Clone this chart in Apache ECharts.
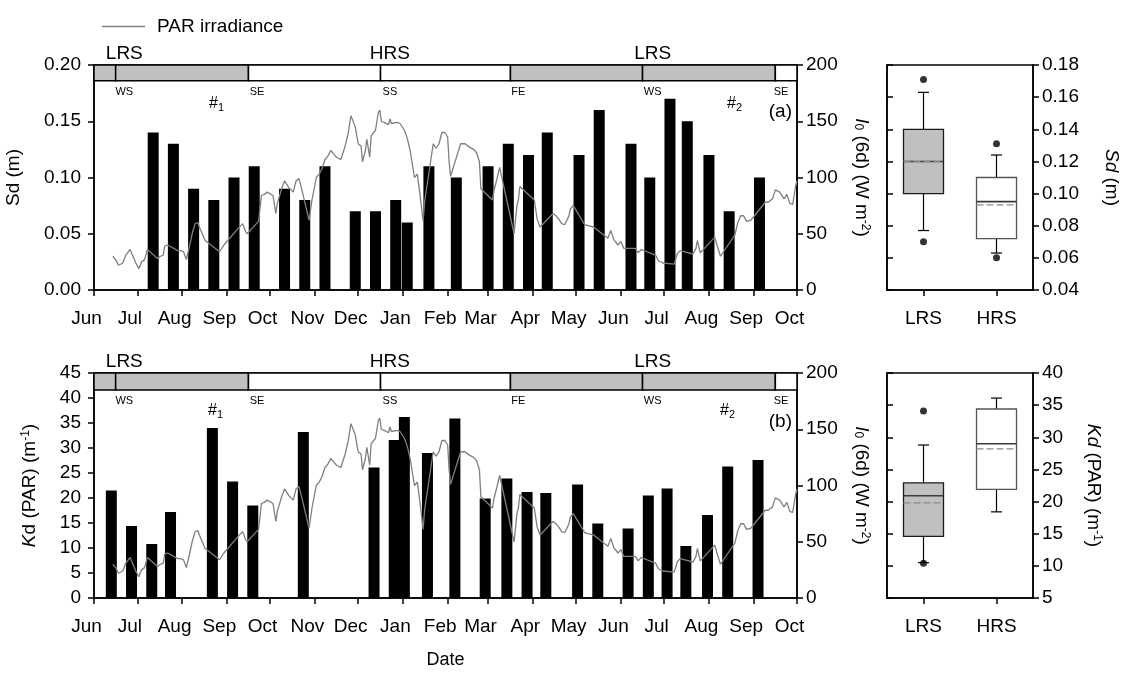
<!DOCTYPE html>
<html>
<head>
<meta charset="utf-8">
<script src="https://cdn.jsdelivr.net/npm/echarts@6/dist/echarts.min.js"></script>
<style>
  html, body { margin: 0; padding: 0; background: #fff; }
  #chart { width: 1126px; height: 675px; }
</style>
</head>
<body>
<div id="chart"></div>
<script>
// ---- time frame (one category per day) ----
const START = '2010-06-01';
const END = '2011-10-01';
const MONTHS = ['Jan','Feb','Mar','Apr','May','Jun','Jul','Aug','Sep','Oct','Nov','Dec'];

// ---- seasons and astronomical events ----
const seasonEvents = ['WS', 'SE', 'SS', 'FE', 'WS', 'SE'];
const seasonEventDates = ['2010-06-22', '2010-09-22', '2010-12-23', '2011-03-22', '2011-06-23', '2011-09-20'];
const bandSegmentSeason = ['LRS', 'LRS', 'HRS', 'HRS', 'LRS', 'LRS', 'HRS'];
const seasonNames = ['LRS', 'HRS', 'LRS'];
const seasonNameDates = ['2010-06-22', '2010-12-23', '2011-06-23'];

// ---- Secchi depth, Sd (m) ----
const sdDates = ['2010-07-12','2010-07-26','2010-08-09','2010-08-23','2010-09-06','2010-09-20',
  '2010-10-11','2010-10-25','2010-11-08','2010-11-29','2010-12-13','2010-12-27','2011-01-04',
  '2011-01-19','2011-02-07','2011-03-01','2011-03-15','2011-03-29','2011-04-11','2011-05-03',
  '2011-05-17','2011-06-08','2011-06-21','2011-07-05','2011-07-17','2011-08-01','2011-08-15','2011-09-05'];
const sdValues = [0.14,0.13,0.09,0.08,0.10,0.11,0.09,0.08,0.11,0.07,0.07,0.08,0.06,
  0.11,0.10,0.11,0.13,0.12,0.14,0.12,0.16,0.13,0.10,0.17,0.15,0.12,0.07,0.10];

// ---- diffuse attenuation, Kd (PAR) (m-1) ----
const kdDates = ['2010-06-13','2010-06-27','2010-07-11','2010-07-24','2010-08-22','2010-09-05',
  '2010-09-19','2010-10-24','2010-12-12','2010-12-26','2011-01-02','2011-01-18','2011-02-06',
  '2011-02-27','2011-03-14','2011-03-28','2011-04-10','2011-05-02','2011-05-16','2011-06-06',
  '2011-06-20','2011-07-03','2011-07-16','2011-07-31','2011-08-14','2011-09-04'];
const kdValues = [21.5,14.4,10.8,17.2,34.0,23.3,18.5,33.2,26.1,31.6,36.2,29.0,35.9,
  19.9,23.9,21.2,21.0,22.7,14.9,13.9,20.5,21.9,10.4,16.6,26.3,27.6];

// ---- 6-day PAR irradiance, I0 (W m-2); days counted from 1 June ----
const parDays = [13,15,17,18,20,22,25,27,29,31,33,35,37,44,46,48,49,51,58,60,62,64,66,68,70,72,73,75,77,
  87,88,90,91,100,103,105,106,114,116,118,120,121,124,126,127,130,132,135,138,140,142,144,149,151,154,
  156,158,160,162,164,166,168,171,174,176,178,179,181,183,185,186,188,189,191,192,195,197,198,199,201,
  204,205,206,210,212,215,217,219,221,222,224,226,228,229,235,237,239,241,243,245,246,247,254,257,260,
  263,265,267,268,276,277,279,281,291,293,294,295,296,305,307,309,318,320,322,324,326,328,329,330,332,
  340,343,346,354,356,358,360,363,365,367,375,377,379,389,391,394,402,404,406,415,417,418,420,430,432,
  434,444,446,448,450,452,455,465,467,470,472,475,478,480,482,484,486,487];
const parValues = [30,27,22,21,24,31,36,30,24,19,25,27,36,28,30,31,39,40,35,35,34,27,38,50,59,60,56,50,44,
  34,34,40,41,55,59,52,50,61,84,85,87,86,84,68,77,90,97,91,87,97,99,89,62,80,100,
  103,108,116,119,124,121,118,116,128,139,155,155,145,130,128,114,124,134,118,137,142,158,160,150,149,
  147,152,148,149,148,142,135,124,108,100,103,83,61,78,130,126,130,140,140,136,114,101,130,130,127,
  125,122,114,90,80,88,98,109,50,75,80,92,92,80,63,56,68,66,63,59,58,63,66,72,75,
  58,57,56,48,46,53,45,40,43,37,37,33,36,31,26,24,23,32,35,32,37,44,33,47,38,
  30,49,60,66,66,61,62,78,78,81,89,87,81,85,77,76,92,97];

// ---- box plots: [lower whisker, Q1, median, Q3, upper whisker] ----
const boxCategories = ['LRS', 'HRS'];
const sdBoxStats = [[0.077, 0.100, 0.120, 0.140, 0.163], [0.063, 0.072, 0.095, 0.110, 0.124]];
const sdBoxMeans = [0.120, 0.093];
const sdOutliers = [['LRS', 0.171], ['LRS', 0.070], ['HRS', 0.131], ['HRS', 0.060]];
const kdBoxStats = [[10.5, 14.6, 20.9, 22.9, 28.8], [18.4, 21.9, 29.0, 34.4, 36.1]];
const kdBoxMeans = [19.8, 28.2];
const kdOutliers = [['LRS', 34.1], ['LRS', 10.4]];

// ---------------------------------------------------------------
const FONT = '"Liberation Sans", Arial, Helvetica, sans-serif';
const FS = 19;           // tick label size
const NAME_FS = 19;      // axis title size
const GRAY = '#c0c0c0';
const BOX_FILLS = [GRAY, '#ffffff'];
const BOX_EDGES = ['#1a1a1a', '#555555'];

// one category per calendar day
const dayCats = [];
for (let t = Date.parse(START + 'T00:00:00Z'); t <= Date.parse(END + 'T00:00:00Z'); t += 86400000) {
  dayCats.push(new Date(t).toISOString().slice(0, 10));
}
const isMonthStart = (i, v) => v.slice(8) === '01';
const parSeries = parDays.map((d, k) => [dayCats[d], parValues[k]]);

const RICH = {
  i: { fontStyle: 'italic', fontSize: NAME_FS, fontFamily: FONT, color: '#000' },
  sup: { fontSize: 12, verticalAlign: 'top', fontFamily: FONT, color: '#000' },
  sub: { fontSize: 12, verticalAlign: 'bottom', fontFamily: FONT, color: '#000' }
};
const nameStyle = { fontSize: NAME_FS, fontFamily: FONT, color: '#000', rich: RICH };
const AXIS_LINE = { show: true, lineStyle: { color: '#000', width: 1.5 } };
const tickLabel = extra => Object.assign({ fontSize: FS, fontFamily: FONT, color: '#000', margin: 9 }, extra || {});

function timeAxis(gridIndex, extra) {
  return Object.assign({
    type: 'category', gridIndex, data: dayCats, boundaryGap: false,
    axisLine: AXIS_LINE,
    axisTick: { show: true, interval: isMonthStart, length: 6, lineStyle: { color: '#000', width: 1.5 } },
    // month names sit a little left of their month-start ticks
    axisLabel: tickLabel({ interval: isMonthStart, formatter: v => MONTHS[+v.slice(5, 7) - 1],
      margin: 19, padding: [0, 15, 0, 0] }),
    splitLine: { show: false }
  }, extra || {});
}

function valueAxis(gridIndex, position, min, max, interval, extra) {
  return Object.assign({
    type: 'value', gridIndex, position, min, max, interval,
    axisLine: AXIS_LINE,
    axisTick: { show: true, length: 6, lineStyle: { color: '#000', width: 1.5 } },
    axisLabel: tickLabel(),
    splitLine: { show: false },
    nameLocation: 'middle', nameTextStyle: nameStyle
  }, extra || {});
}

function boxAxisX(gridIndex) {
  return {
    type: 'category', gridIndex, data: boxCategories,
    axisLine: AXIS_LINE,
    axisTick: { show: true, alignWithLabel: true, length: 6, lineStyle: { color: '#000', width: 1.5 } },
    axisLabel: tickLabel({ margin: 19 }),
    splitLine: { show: false }
  };
}

function bandAreas(lo, hi) {
  const edges = [dayCats[0]].concat(seasonEventDates, [dayCats[dayCats.length - 1]]);
  return bandSegmentSeason.map((s, k) => [
    { xAxis: edges[k], yAxis: lo,
      itemStyle: { color: s === 'LRS' ? GRAY : '#ffffff', borderColor: '#000', borderWidth: 1.5 } },
    { xAxis: edges[k + 1], yAxis: hi }
  ]);
}

function bandLabels(lo, hi) {
  const ev = seasonEvents.map((name, k) => ({
    name, coord: [seasonEventDates[k], lo],
    label: { position: 'bottom', distance: 5, fontSize: 11 }
  }));
  const ss = seasonNames.map((name, k) => ({
    name, coord: [seasonNameDates[k], hi],
    label: { position: 'top', distance: 1, fontSize: 19 }
  }));
  return ev.concat(ss);
}

function barSeries(name, xi, yi, dates, values, lo, hi) {
  return {
    name, type: 'bar', xAxisIndex: xi, yAxisIndex: yi, barWidth: 11,
    itemStyle: { color: '#000' },
    data: dates.map((d, k) => [d, values[k]]),
    markArea: { silent: true, data: bandAreas(lo, hi) },
    markPoint: {
      silent: true, symbol: 'circle', symbolSize: 1,
      itemStyle: { color: 'rgba(0,0,0,0)' },
      label: { show: true, formatter: '{b}', color: '#000', fontFamily: FONT },
      data: bandLabels(lo, hi)
    }
  };
}

function lineSeries(xi, yi) {
  return {
    name: 'PAR irradiance', type: 'line', xAxisIndex: xi, yAxisIndex: yi,
    symbol: 'none', lineStyle: { color: '#7f7f7f', width: 1.3 }, itemStyle: { color: '#7f7f7f' },
    data: parSeries
  };
}

function renderBox(params, api) {
  const cat = api.value(0);
  const low = api.value(1), q1 = api.value(2), med = api.value(3), q3 = api.value(4), high = api.value(5), mean = api.value(6);
  const cx = api.coord([cat, med])[0];
  const y = v => api.coord([cat, v])[1];
  const hw = 20, cw = 5.5;
  const whisker = { stroke: '#000', lineWidth: 1.2 };
  return {
    type: 'group',
    children: [
      { type: 'line', shape: { x1: cx, y1: y(q3), x2: cx, y2: y(high) }, style: whisker },
      { type: 'line', shape: { x1: cx, y1: y(q1), x2: cx, y2: y(low) }, style: whisker },
      { type: 'line', shape: { x1: cx - cw, y1: y(high), x2: cx + cw, y2: y(high) }, style: whisker },
      { type: 'line', shape: { x1: cx - cw, y1: y(low), x2: cx + cw, y2: y(low) }, style: whisker },
      { type: 'rect', shape: { x: cx - hw, y: y(q3), width: 2 * hw, height: y(q1) - y(q3) },
        style: { fill: BOX_FILLS[params.dataIndex], stroke: BOX_EDGES[params.dataIndex], lineWidth: 1.3 } },
      { type: 'line', shape: { x1: cx - hw, y1: y(med), x2: cx + hw, y2: y(med) },
        style: { stroke: '#3a3a3a', lineWidth: 1.6 } },
      { type: 'line', shape: { x1: cx - hw, y1: y(mean), x2: cx + hw, y2: y(mean) },
        style: { stroke: '#8a8a8a', lineWidth: 1.3, lineDash: [7, 3] } }
    ]
  };
}

function boxSeries(xi, yi, stats, means) {
  return {
    type: 'custom', xAxisIndex: xi, yAxisIndex: yi, renderItem: renderBox,
    encode: { x: 0, y: [1, 2, 3, 4, 5] },
    data: stats.map((s, k) => [k].concat(s, [means[k]]))
  };
}

function outlierSeries(xi, yi, pts) {
  return {
    type: 'scatter', xAxisIndex: xi, yAxisIndex: yi, symbol: 'circle', symbolSize: 7,
    itemStyle: { color: '#000' }, data: pts
  };
}

const gridBox = { show: true, borderColor: '#000', borderWidth: 1.5, backgroundColor: 'transparent',
  containLabel: false, outerBoundsMode: 'none' };
const innerTicks = { show: true, inside: true, length: 6, lineStyle: { color: '#000', width: 1.5 } };
const subLabel = { s: { fontSize: 11, verticalAlign: 'bottom', padding: [7, 0, 0, 0] } };

const option = {
  animation: false,
  backgroundColor: '#fff',
  textStyle: { fontFamily: FONT },
  legend: {
    data: ['PAR irradiance'], left: 97, top: 12, icon: 'rect', itemWidth: 43, itemHeight: 1.6,
    textStyle: { fontSize: 19, fontFamily: FONT, color: '#000', padding: [0, 0, 0, 7] }
  },
  grid: [
    Object.assign({ left: 94, top: 65, width: 703, height: 225 }, gridBox),
    Object.assign({ left: 94, top: 373, width: 703, height: 225 }, gridBox),
    Object.assign({ left: 887, top: 65, width: 146, height: 225 }, gridBox),
    Object.assign({ left: 887, top: 373, width: 146, height: 225 }, gridBox)
  ],
  xAxis: [
    timeAxis(0),
    timeAxis(1, { name: 'Date', nameLocation: 'middle', nameGap: 53,
      nameTextStyle: { fontSize: 18, fontFamily: FONT, color: '#000' } }),
    boxAxisX(2),
    boxAxisX(3)
  ],
  yAxis: [
    valueAxis(0, 'left', 0, 0.2, 0.05, {
      axisLabel: tickLabel({ formatter: v => v.toFixed(2), margin: 13 }),
      name: 'Sd (m)', nameGap: 71, nameRotate: 90 }),
    valueAxis(0, 'right', 0, 200, 50, {
      name: '{i|I}{sub|0} (6d) (W m{sup|-2})', nameGap: 55, nameRotate: -90 }),
    valueAxis(1, 'left', 0, 45, 5, {
      axisLabel: tickLabel({ margin: 13 }),
      name: '{i|K}d (PAR) (m{sup|-1})', nameGap: 55, nameRotate: 90 }),
    valueAxis(1, 'right', 0, 200, 50, {
      name: '{i|I}{sub|0} (6d) (W m{sup|-2})', nameGap: 55, nameRotate: -90 }),
    valueAxis(2, 'right', 0.04, 0.18, 0.02, {
      axisLabel: tickLabel({ formatter: v => v.toFixed(2) }),
      name: '{i|Sd} (m)', nameGap: 69, nameRotate: -90 }),
    valueAxis(2, 'left', 0.04, 0.18, 0.02, { axisLabel: { show: false }, axisTick: innerTicks }),
    valueAxis(3, 'right', 5, 40, 5, {
      name: '{i|Kd} (PAR) (m{sup|-1})', nameGap: 51, nameRotate: -90 }),
    valueAxis(3, 'left', 5, 40, 5, { axisLabel: { show: false }, axisTick: innerTicks })
  ],
  series: [
    lineSeries(0, 1),
    barSeries('Sd', 0, 0, sdDates, sdValues, 0.186, 0.2),
    lineSeries(1, 3),
    barSeries('Kd', 1, 2, kdDates, kdValues, 41.6, 45),
    boxSeries(2, 4, sdBoxStats, sdBoxMeans),
    outlierSeries(2, 4, sdOutliers),
    boxSeries(3, 6, kdBoxStats, kdBoxMeans),
    outlierSeries(3, 6, kdOutliers)
  ],
  graphic: [
    { type: 'text', x: 792, y: 112, silent: true,
      style: { text: '(a)', font: '19px ' + FONT, fill: '#000', align: 'right', verticalAlign: 'middle' } },
    { type: 'text', x: 792, y: 422, silent: true,
      style: { text: '(b)', font: '19px ' + FONT, fill: '#000', align: 'right', verticalAlign: 'middle' } },
    { type: 'text', x: 209, y: 95, silent: true,
      style: { text: '#{s|1}', font: '16px ' + FONT, fill: '#000', rich: subLabel } },
    { type: 'text', x: 208, y: 402, silent: true,
      style: { text: '#{s|1}', font: '16px ' + FONT, fill: '#000', rich: subLabel } },
    { type: 'text', x: 727, y: 95, silent: true,
      style: { text: '#{s|2}', font: '16px ' + FONT, fill: '#000', rich: subLabel } },
    { type: 'text', x: 720, y: 402, silent: true,
      style: { text: '#{s|2}', font: '16px ' + FONT, fill: '#000', rich: subLabel } }
  ]
};

const chart = echarts.init(document.getElementById('chart'));
chart.setOption(option);
</script>
</body>
</html>
